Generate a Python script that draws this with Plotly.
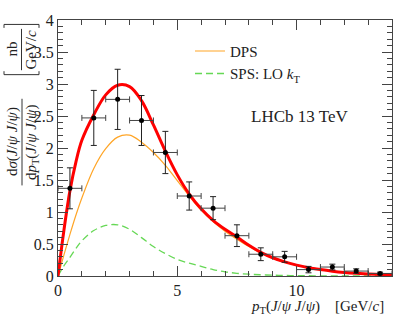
import plotly.graph_objects as go

# ---- data ----
bin_centers = [0.5, 1.5, 2.5, 3.5, 4.5, 5.5, 6.5, 7.5, 8.5, 9.5, 10.5, 11.5, 12.5, 13.5]
bin_halfwidth = [0.5] * 14
xsec = [1.37, 2.47, 2.76, 2.43, 1.93, 1.25, 1.06, 0.63, 0.34, 0.30, 0.10, 0.14, 0.077, 0.04]
xsec_err = [0.32, 0.43, 0.47, 0.39, 0.33, 0.22, 0.18, 0.17, 0.10, 0.085, 0.05, 0.045, 0.035, 0.02]

pt_grid = [0, 0.25, 0.5, 0.75, 1, 1.5, 2, 2.5, 3, 3.5, 4, 4.5, 5, 5.5, 6, 6.5, 7, 7.5,
           8, 8.5, 9, 9.5, 10, 10.5, 11, 11.5, 12, 12.5, 13, 13.5, 14]
total_fit = [0, 0.72, 1.33, 1.78, 2.12, 2.52, 2.83, 2.98, 2.96, 2.74, 2.36, 1.95, 1.58, 1.28,
             1.05, 0.87, 0.73, 0.61, 0.48, 0.37, 0.285, 0.22, 0.17, 0.13, 0.10, 0.075,
             0.056, 0.042, 0.032, 0.024, 0.018]
dps = [0, 0.33, 0.65, 0.95, 1.22, 1.68, 1.99, 2.17, 2.20, 2.09, 1.93, 1.73, 1.49, 1.25,
       1.03, 0.85, 0.70, 0.575, 0.46, 0.36, 0.28, 0.215, 0.165, 0.125, 0.095, 0.071,
       0.053, 0.04, 0.03, 0.023, 0.017]
sps = [0, 0.16, 0.29, 0.43, 0.55, 0.71, 0.79, 0.80, 0.73, 0.60, 0.46, 0.35, 0.26, 0.20,
       0.15, 0.10, 0.065, 0.042, 0.028, 0.019, 0.013, 0.009, 0.006, 0.004, 0.003, 0.002,
       0.0015, 0.001, 0.0008, 0.0006, 0.0005]

SERIF = "Liberation Serif, DejaVu Serif, Times New Roman, serif"
W, H = 412, 329
L, R, T, B = 58, 20, 16, 53
X0, Y0, PW, PH = L, H - B, W - L - R, H - T - B


def px(x):
    return (x - X0) / PW


def py(y):
    return (Y0 - y) / PH


fig = go.Figure()

fig.add_trace(go.Scatter(x=pt_grid, y=sps, mode="lines", name="SPS: LO <i>k</i><sub>T</sub>",
                         line=dict(color="#66d855", width=1.3, dash="7px,4px", shape="spline"),
                         showlegend=True, legendrank=2))
fig.add_trace(go.Scatter(x=pt_grid, y=dps, mode="lines", name="DPS",
                         line=dict(color="#ffa526", width=1.2, shape="spline"),
                         showlegend=True, legendrank=1))
fig.add_trace(go.Scatter(x=pt_grid, y=total_fit, mode="lines", name="total",
                         line=dict(color="#ff0000", width=3, shape="spline"),
                         showlegend=False))
fig.add_trace(go.Scatter(x=bin_centers, y=xsec, mode="markers", name="LHCb",
                         marker=dict(color="black", size=5),
                         error_y=dict(type="data", array=xsec_err, color="#222222",
                                      thickness=1, width=3),
                         error_x=dict(type="data", array=bin_halfwidth, color="#444444",
                                      thickness=1, width=3),
                         showlegend=False))

axis_common = dict(showline=True, linecolor="#444444", linewidth=1, mirror="allticks",
                   ticks="inside", tickcolor="#444444", showgrid=False, zeroline=False,
                   tickfont=dict(family=SERIF, size=16, color="#222222"))

fig.update_xaxes(range=[0, 14], dtick=5, tick0=0, ticklen=10,
                 minor=dict(ticks="inside", dtick=1, ticklen=5, tickcolor="#444444"),
                 **axis_common)
fig.update_yaxes(range=[0, 4], dtick=0.5, tick0=0, ticklen=10,
                 minor=dict(ticks="inside", dtick=0.1, ticklen=5, tickcolor="#444444"),
                 ticklabelstandoff=0,
                 **axis_common)

ann = []
ann.append(dict(text="<i>p</i><sub>T</sub>(<i>J</i>/<i>ψ</i> <i>J</i>/<i>ψ</i>)&nbsp;&nbsp;&nbsp;&nbsp;[GeV/<i>c</i>]",
                x=px(386), y=py(307), xref="paper", yref="paper", xanchor="right", yanchor="middle",
                showarrow=False, font=dict(family=SERIF, size=15, color="#222222")))
ann.append(dict(text="LHCb 13 TeV", x=px(350), y=py(114), xref="paper", yref="paper",
                xanchor="right", yanchor="middle", showarrow=False,
                font=dict(family=SERIF, size=17, color="#222222")))
# y-axis title: fraction
ann.append(dict(text="d<i>σ</i>(<i>J</i>/<i>ψ</i> <i>J</i>/<i>ψ</i>)", x=px(12), y=py(140),
                xref="paper", yref="paper", xanchor="center", yanchor="middle", textangle=-90,
                showarrow=False, font=dict(family=SERIF, size=15, color="#222222")))
ann.append(dict(text="d<i>p</i><sub>T</sub>(<i>J</i>/<i>ψ</i> <i>J</i>/<i>ψ</i>)", x=px(32), y=py(140),
                xref="paper", yref="paper", xanchor="center", yanchor="middle", textangle=-90,
                showarrow=False, font=dict(family=SERIF, size=15, color="#222222")))
ann.append(dict(text="nb", x=px(12), y=py(46), xref="paper", yref="paper",
                xanchor="center", yanchor="middle", textangle=-90,
                showarrow=False, font=dict(family=SERIF, size=15, color="#222222")))
ann.append(dict(text="GeV/<i>c</i>", x=px(31), y=py(46), xref="paper", yref="paper",
                xanchor="center", yanchor="middle", textangle=-90,
                showarrow=False, font=dict(family=SERIF, size=15, color="#222222")))

shapes = []
lc = dict(color="#333333", width=1)
shapes.append(dict(type="line", xref="paper", yref="paper", x0=px(22), x1=px(22),
                   y0=py(96), y1=py(184), line=lc))
shapes.append(dict(type="line", xref="paper", yref="paper", x0=px(21.5), x1=px(21.5),
                   y0=py(25), y1=py(67), line=lc))
# brackets
shapes.append(dict(type="path", xref="paper", yref="paper",
                   path=f"M {px(4)},{py(68)} L {px(4)},{py(71.5)} L {px(39)},{py(71.5)} L {px(39)},{py(68)}",
                   line=lc))
shapes.append(dict(type="path", xref="paper", yref="paper",
                   path=f"M {px(4)},{py(24)} L {px(4)},{py(20.5)} L {px(39)},{py(20.5)} L {px(39)},{py(24)}",
                   line=lc))

fig.update_layout(
    width=W, height=H,
    margin=dict(l=L, r=R, t=T, b=B),
    paper_bgcolor="white", plot_bgcolor="white",
    font=dict(family=SERIF, size=15, color="#222222"),
    annotations=ann, shapes=shapes,
    legend=dict(x=px(190), y=py(31), xanchor="left", yanchor="top",
                bgcolor="rgba(0,0,0,0)", font=dict(family=SERIF, size=15, color="#222222"),
                tracegroupgap=0),
)

fig.write_html("out.html", config={"displayModeBar": False},
               post_script="document.body.style.margin='0';document.body.style.overflow='hidden';")
